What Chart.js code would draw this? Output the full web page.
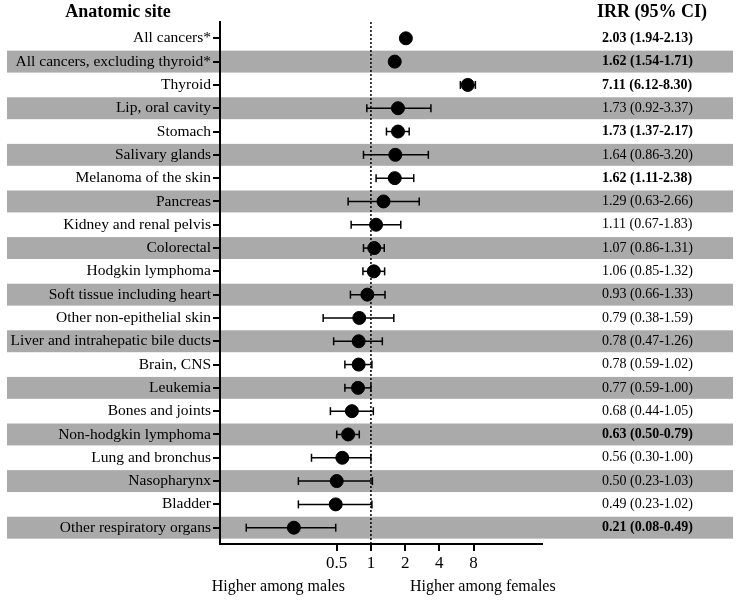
<!DOCTYPE html>
<html>
<head>
<meta charset="utf-8">
<script src="https://cdn.jsdelivr.net/npm/chart.js@4"></script>
<style>
  body { margin: 0; background: #fff; }
  #wrap { width: 740px; height: 600px; position: relative; }
</style>
</head>
<body>
<div id="wrap"><canvas id="chart"></canvas></div>
<script>
const sites = [
    "All cancers*", "All cancers, excluding thyroid*", "Thyroid", "Lip, oral cavity",
    "Stomach", "Salivary glands", "Melanoma of the skin", "Pancreas",
    "Kidney and renal pelvis", "Colorectal", "Hodgkin lymphoma", "Soft tissue including heart",
    "Other non-epithelial skin", "Liver and intrahepatic bile ducts", "Brain, CNS", "Leukemia",
    "Bones and joints", "Non-hodgkin lymphoma", "Lung and bronchus", "Nasopharynx",
    "Bladder", "Other respiratory organs"
];
const irr   = [2.03, 1.62, 7.11, 1.73, 1.73, 1.64, 1.62, 1.29, 1.11, 1.07, 1.06, 0.93, 0.79, 0.78, 0.78, 0.77, 0.68, 0.63, 0.56, 0.50, 0.49, 0.21];
const lower = [1.94, 1.54, 6.12, 0.92, 1.37, 0.86, 1.11, 0.63, 0.67, 0.86, 0.85, 0.66, 0.38, 0.47, 0.59, 0.59, 0.44, 0.50, 0.30, 0.23, 0.23, 0.08];
const upper = [2.13, 1.71, 8.30, 3.37, 2.17, 3.20, 2.38, 2.66, 1.83, 1.31, 1.32, 1.33, 1.59, 1.26, 1.02, 1.00, 1.05, 0.79, 1.00, 1.03, 1.02, 0.49];
const significant = [1, 1, 1, 0, 1, 0, 1, 0, 0, 0, 0, 0, 0, 0, 0, 0, 0, 1, 0, 0, 0, 1];
const xTicks = [0.5, 1, 2, 4, 8];

const FONT = "'Liberation Serif', 'Times New Roman', serif";
const ciText = irr.map((v, i) => `${v.toFixed(2)} (${lower[i].toFixed(2)}-${upper[i].toFixed(2)})`);

// grey bands behind every second row, across the whole width
const bandsPlugin = {
    id: "bands",
    beforeDraw(chart) {
        const ctx = chart.ctx;
        const y = chart.scales.y;
        const h = y.getPixelForValue(0.47) - y.getPixelForValue(-0.47);
        ctx.save();
        ctx.fillStyle = "#aaaaaa";
        for (let i = 1; i < sites.length; i += 2) {
            ctx.fillRect(7, y.getPixelForValue(i) - h / 2, 726, h);
        }
        ctx.restore();
    }
};

// dotted line of no difference at IRR = 1
const refLinePlugin = {
    id: "refline",
    beforeDatasetsDraw(chart) {
        const ctx = chart.ctx;
        const x = chart.scales.x.getPixelForValue(1);
        ctx.save();
        ctx.strokeStyle = "#000";
        ctx.lineWidth = 1.5;
        ctx.setLineDash([2, 2]);
        ctx.beginPath();
        ctx.moveTo(x, chart.chartArea.top);
        ctx.lineTo(x, chart.chartArea.bottom);
        ctx.stroke();
        ctx.restore();
    }
};

// headers, IRR column and direction captions
const textPlugin = {
    id: "texts",
    afterDraw(chart) {
        const ctx = chart.ctx;
        const y = chart.scales.y;
        const x1 = chart.scales.x.getPixelForValue(1);
        const { right, bottom } = chart.chartArea;
        ctx.save();
        ctx.fillStyle = "#000";
        ctx.textBaseline = "middle";
        ctx.font = `bold 18px ${FONT}`;
        ctx.textAlign = "center";
        ctx.fillText("Anatomic site", 118, 12);
        ctx.fillText("IRR (95% CI)", 652, 12);

        ctx.textAlign = "left";
        ciText.forEach((t, i) => {
            ctx.font = `${significant[i] ? "bold " : ""}14px ${FONT}`;
            ctx.fillText(t, right + 60, y.getPixelForValue(i));
        });

        ctx.font = `16px ${FONT}`;
        ctx.textAlign = "right";
        ctx.fillText("Higher among males", x1 - 26, bottom + 43);
        ctx.textAlign = "left";
        ctx.fillText("Higher among females", x1 + 39, bottom + 43);
        ctx.restore();
    }
};

const errorSets = sites.map((s, i) => ({
    type: "scatter",
    data: [{ x: lower[i], y: i }, { x: upper[i], y: i }],
    showLine: true,
    borderColor: "#000",
    borderWidth: 1.5,
    pointStyle: "line",
    rotation: 90,
    pointRadius: 4,
    pointHoverRadius: 4,
    pointBorderWidth: 1.5,
    pointBorderColor: "#000",
    order: 2
}));

const dotSet = {
    type: "scatter",
    data: irr.map((v, i) => ({ x: v, y: i })),
    pointRadius: 6.5,
    pointHoverRadius: 6.5,
    backgroundColor: "#000",
    borderColor: "#000",
    order: 1
};

new Chart(document.getElementById("chart"), {
    type: "scatter",
    data: { datasets: errorSets.concat([dotSet]) },
    plugins: [bandsPlugin, refLinePlugin, textPlugin],
    options: {
        responsive: true,
        maintainAspectRatio: false,
        animation: false,
        events: [],
        layout: { padding: { top: 22, left: 0, right: 198, bottom: 0 } },
        plugins: { legend: { display: false }, tooltip: { enabled: false } },
        scales: {
            x: {
                type: "logarithmic",
                min: 0.047,
                max: 32,
                afterBuildTicks: (scale) => { scale.ticks = xTicks.map(v => ({ value: v })); },
                afterFit: (scale) => { scale.height = 56; scale.paddingLeft = 0; scale.paddingRight = 0; },
                border: { display: true, color: "#000", width: 2 },
                grid: { display: true, drawOnChartArea: false, drawTicks: true, tickLength: 7, color: "#000", lineWidth: 2 },
                ticks: {
                    color: "#000",
                    padding: 2,
                    font: { family: FONT, size: 17 },
                    maxRotation: 0,
                    callback: (v) => String(v)
                }
            },
            y: {
                type: "linear",
                position: "left",
                reverse: true,
                min: -0.7,
                max: 21.7,
                afterBuildTicks: (scale) => { scale.ticks = sites.map((s, i) => ({ value: i })); },
                afterFit: (scale) => { scale.width = 220; scale.paddingTop = 0; scale.paddingBottom = 0; },
                border: { display: true, color: "#000", width: 2 },
                grid: { display: true, drawOnChartArea: false, drawTicks: true, tickLength: 7, color: "#000", lineWidth: 2 },
                ticks: {
                    color: "#000",
                    padding: 2,
                    autoSkip: false,
                    font: { family: FONT, size: 15.5 },
                    callback: (v) => sites[v]
                }
            }
        }
    }
});
</script>
</body>
</html>
